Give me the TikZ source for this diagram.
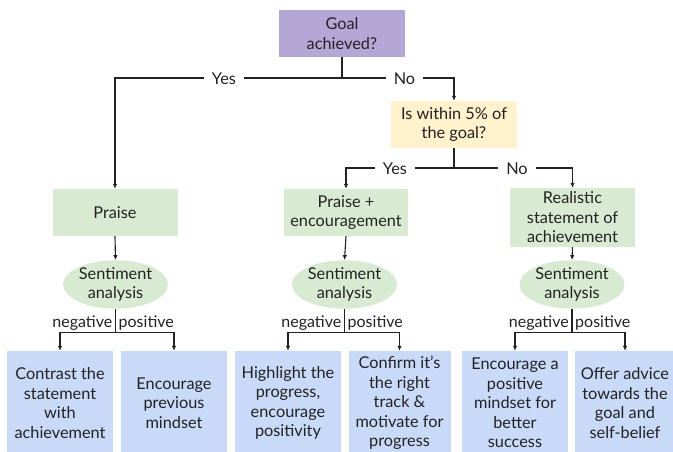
\documentclass[tikz,border=0pt]{standalone}
\usepackage{fontspec}
\setmainfont{Lato}
\usetikzlibrary{arrows.meta,shapes.geometric}
\definecolor{cpurple}{HTML}{B4A7D6}
\definecolor{cyellow}{HTML}{FFF2CC}
\definecolor{cgreen}{HTML}{D9EAD3}
\definecolor{cblue}{HTML}{C9DAF8}
\definecolor{cink}{HTML}{222222}
\tikzset{
  base/.style={font=\fontsize{16.3}{19.5}\selectfont, text=cink, align=center, inner sep=0pt},
  qbox/.style={base, minimum width=126pt, minimum height=47pt},
  gbox/.style={base, fill=cgreen, minimum width=125pt, minimum height=47pt},
  bbox/.style={base, fill=cblue, minimum width=106pt, minimum height=104pt},
  sent/.style={base, ellipse, fill=cgreen, minimum width=105pt, minimum height=45pt, inner sep=0pt},
  lbl/.style={base, fill=white, inner xsep=8pt, inner ysep=2pt},
  plbl/.style={base, font=\fontsize{16}{17}\selectfont},
  conn/.style={draw=cink, line width=1.1pt},
  arr/.style={conn, -{Latex[length=5pt,width=4.5pt]}}
}
\begin{document}
\begin{tikzpicture}[x=1pt,y=-1pt]
\useasboundingbox (0,0) rectangle (673,451);
% decision nodes
\node[qbox, fill=cpurple] (goal) at (342,33.5) {Goal\\achieved?};
\node[qbox, fill=cyellow] (within) at (454,124.5) {Is within 5\% of\\the goal?};
% reaction nodes
\node[gbox] (praise) at (115,212.5) {Praise};
\node[gbox, minimum width=124pt] (praiseenc) at (346,212.5) {Praise +\\encouragement};
\node[gbox, minimum height=59pt] (real) at (572.5,217.5) {Realistic\\statement of\\achievement};
% sentiment nodes
\node[sent] (s1) at (115.5,284.5) {Sentiment\\analysis};
\node[sent] (s2) at (344.5,284.5) {Sentiment\\analysis};
\node[sent] (s3) at (572,284.5) {Sentiment\\analysis};
% leaf nodes
\node[bbox] (b1) at (60,403) {Contrast the\\statement\\with\\achievement};
\node[bbox] (b2) at (174,403) {Encourage\\previous\\mindset};
\node[bbox] (b3) at (288,403) {Highlight the\\progress,\\encourage\\positivity};
\node[bbox, minimum width=102pt] (b4) at (399.5,403) {Confirm it’s\\the right\\track \&\\motivate for\\progress};
\node[bbox] (b5) at (515,403) {Encourage a\\positive\\mindset for\\better\\success};
\node[bbox, minimum width=100pt] (b6) at (625,403) {Offer advice\\towards the\\goal and\\self-belief};
% junctions
\coordinate (j1) at (342,78);
\coordinate (j2) at (454,168);
\draw[conn] (goal.south) -- (j1);
\draw[arr] (j1) -| (praise.north);
\draw[arr] (j1) -| (within.north);
\draw[conn] (within.south) -- (j2);
\draw[arr] (j2) -| (praiseenc.north);
\draw[arr] (j2) -| (real.north);
\draw[arr] (praise.south) -- (s1.north);
\draw[arr] (praiseenc.south) -- (s2.north);
\draw[arr] (real.south) -- (s3.north);
% sentiment splits
\foreach \s/\l/\r in {s1/b1/b2, s2/b3/b4, s3/b5/b6}{
  \coordinate (\s j) at ([yshift=-23.5pt]\s.south);
  \draw[conn] (\s.south) -- (\s j);
  \draw[arr] (\s j) -| (\l.north);
  \draw[arr] (\s j) -| (\r.north);
  \node[plbl, anchor=east] at ([xshift=-3pt,yshift=9.5pt]\s j) {negative};
  \node[plbl, anchor=west] at ([xshift=3pt,yshift=9.5pt]\s j) {positive};
}
% branch labels
\node[lbl] (yes1) at (224,79) {Yes};
\node[lbl] (no1) at (404.5,79) {No};
\node[lbl] (yes2) at (395,169) {Yes};
\node[lbl] (no2) at (517,169) {No};
\end{tikzpicture}
\end{document}
